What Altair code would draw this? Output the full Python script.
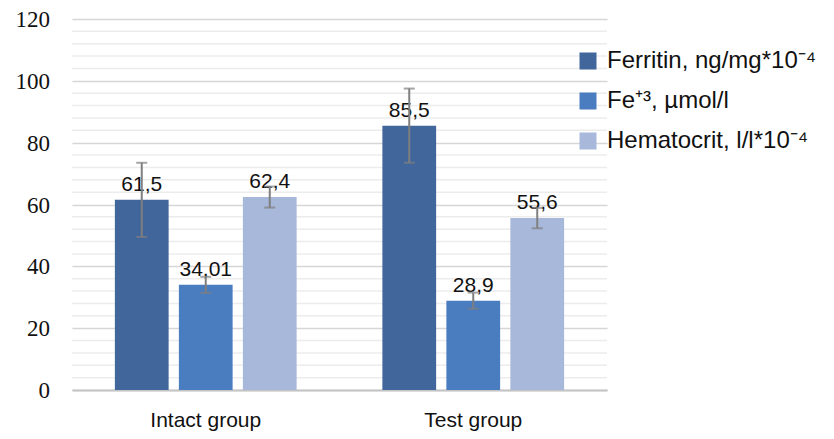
import altair as alt
import pandas as pd

groups = ["Intact group", "Test group"]
series = ["Ferritin, ng/mg*10⁻⁴", "Fe⁺³, µmol/l", "Hematocrit, l/l*10⁻⁴"]
ferritin = [61.5, 85.5]
fe = [34.01, 28.9]
hematocrit = [62.4, 55.6]
ferritin_err = [12.0, 12.0]
fe_err = [2.6, 2.6]
hematocrit_err = [3.4, 3.3]
labels = [["61,5", "85,5"], ["34,01", "28,9"], ["62,4", "55,6"]]
colors = ["#41669b", "#4a7cc0", "#a8b8da"]
major_ticks = list(range(0, 121, 20))
minor_ticks = [v for v in range(0, 121, 4) if v % 20 != 0]

rows = []
for s_i, (name, vals, errs) in enumerate(zip(series, [ferritin, fe, hematocrit],
                                              [ferritin_err, fe_err, hematocrit_err])):
    for g_i, g in enumerate(groups):
        rows.append({
            "group": g, "series": name, "value": vals[g_i],
            "lo": vals[g_i] - errs[g_i], "hi": vals[g_i] + errs[g_i],
            "label": labels[s_i][g_i],
        })
df = pd.DataFrame(rows)

x_enc = alt.X("group:N", sort=groups,
              scale=alt.Scale(paddingInner=0, paddingOuter=0),
              axis=alt.Axis(title=None, labelAngle=0, ticks=False, grid=False,
                            domain=True, domainColor="#c4c4c4", domainWidth=2,
                            labelFont="Liberation Sans", labelFontSize=21,
                            labelColor="#111111", labelPadding=19))
xo_enc = alt.XOffset("series:N", sort=series,
                     scale=alt.Scale(paddingInner=0.16, paddingOuter=0.67))

y_axis = alt.Axis(title=None, values=major_ticks, domain=False, ticks=False,
                  grid=True, gridColor="#d6d6d6", gridWidth=1.5, labels=False)
y_scale = alt.Scale(domain=[0, 120], nice=False)

minor = alt.Chart(pd.DataFrame({"v": minor_ticks})).mark_rule(
    color="#ececec", strokeWidth=1.5).encode(
    y=alt.Y("v:Q", scale=y_scale, axis=y_axis))

ylabels = alt.Chart(pd.DataFrame({"v": major_ticks})).mark_text(
    align="right", baseline="middle", dy=1, font="Liberation Serif",
    fontSize=23, color="#111111").encode(
    y=alt.Y("v:Q", scale=y_scale, axis=y_axis),
    x=alt.value(-22),
    text=alt.Text("v:Q"))

base = alt.Chart(df).encode(x=x_enc, xOffset=xo_enc)

bars = base.mark_bar().encode(
    y=alt.Y("value:Q", scale=y_scale, axis=y_axis),
    color=alt.Color("series:N", sort=series,
                    scale=alt.Scale(domain=series, range=colors),
                    legend=alt.Legend(title=None, orient="none", legendX=504, legendY=30,
                                      symbolType="square", symbolSize=289,
                                      symbolStrokeWidth=0, labelFont="Liberation Sans",
                                      labelFontSize=24, labelColor="#111111",
                                      labelOffset=7, rowPadding=16, padding=0,
                                      labelLimit=320)),
)

text = base.mark_text(baseline="alphabetic", dy=-9, fontSize=21,
                      font="Liberation Sans", color="#111111").encode(
    y=alt.Y("value:Q", scale=y_scale, axis=y_axis), text="label:N")

err_rule = base.mark_rule(color="#7f7f7f", strokeWidth=2).encode(
    y=alt.Y("lo:Q", scale=y_scale, axis=y_axis), y2="hi:Q")
cap_lo = base.mark_tick(color="#7f7f7f", thickness=2, size=11).encode(
    y=alt.Y("lo:Q", scale=y_scale, axis=y_axis))
cap_hi = base.mark_tick(color="#7f7f7f", thickness=2, size=11).encode(
    y=alt.Y("hi:Q", scale=y_scale, axis=y_axis))

chart = alt.layer(minor, ylabels, bars, text, err_rule, cap_lo, cap_hi).properties(
    width=535, height=371,
    autosize=alt.AutoSizeParams(type="none"),
    padding={"left": 64, "top": 11, "right": 217, "bottom": 41},
).configure_view(stroke=None, clip=False)

chart.save("out.html", embed_options={"renderer": "svg", "actions": False})
